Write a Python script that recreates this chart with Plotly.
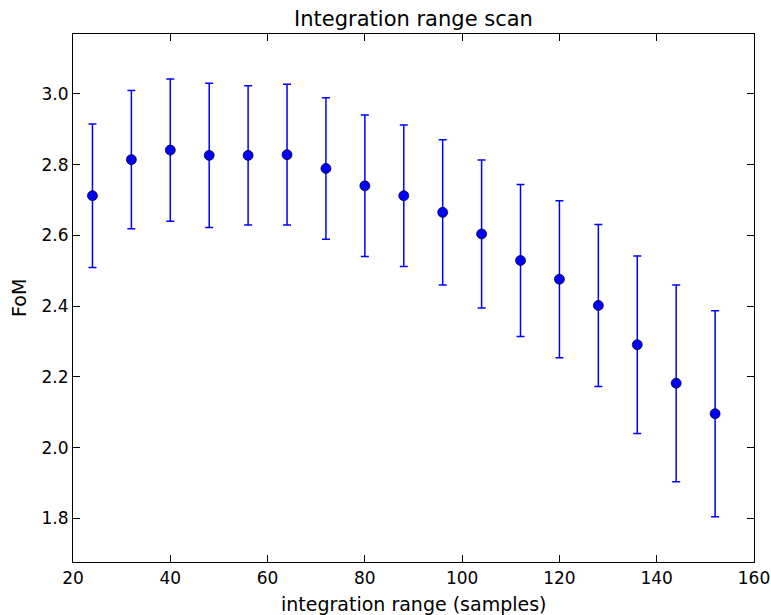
import plotly.graph_objects as go

x_vals = [24, 32, 40, 48, 56, 64, 72, 80, 88, 96, 104, 112, 120, 128, 136, 144, 152]
fom = [2.712, 2.814, 2.841, 2.826, 2.826, 2.828, 2.789, 2.740, 2.712, 2.665, 2.604,
       2.529, 2.476, 2.402, 2.291, 2.182, 2.096]
fom_err = [0.203, 0.195, 0.201, 0.204, 0.197, 0.199, 0.200, 0.200, 0.200, 0.205,
           0.209, 0.215, 0.222, 0.229, 0.251, 0.278, 0.291]
x_ticks = [20, 40, 60, 80, 100, 120, 140, 160]
y_ticks = [1.8, 2.0, 2.2, 2.4, 2.6, 2.8, 3.0]

fig = go.Figure()
fig.add_trace(go.Scatter(
    x=x_vals, y=fom, mode="markers",
    marker=dict(color="#0000ff", size=10, line=dict(color="black", width=0.7)),
    error_y=dict(type="data", array=fom_err, visible=True, color="#0000ff",
                 thickness=1.5, width=4),
    showlegend=False,
))

font_family = "DejaVu Sans"
axis_common = dict(
    showgrid=False, zeroline=False, showline=True, linecolor="black", linewidth=1.2,
    mirror="ticks", ticks="inside", ticklen=7, tickwidth=1, tickcolor="black",
    tickfont=dict(family=font_family, size=17, color="black"),
    automargin=False,
)
fig.update_layout(
    width=771, height=615,
    margin=dict(l=73, r=17, t=34, b=53),
    paper_bgcolor="white", plot_bgcolor="white",
    title=dict(text="Integration range scan", x=0.5, xanchor="center",
               xref="paper",
               y=1 - 18.5 / 615, yanchor="middle",
               font=dict(family=font_family, size=21, color="black")),
    xaxis=dict(range=[20, 160], tickvals=x_ticks, ticktext=[str(v) for v in x_ticks],
               **axis_common),
    yaxis=dict(range=[1.677, 3.169], tickvals=y_ticks,
               ticktext=[f"{v:.1f}" for v in y_ticks],
               **axis_common),
    annotations=[
        dict(text="integration range (samples)", xref="paper", yref="paper",
             x=0.5, y=(562 - 604) / 528, xanchor="center", yanchor="middle",
             showarrow=False, font=dict(family=font_family, size=19, color="black")),
        dict(text="FoM", xref="paper", yref="paper", textangle=-90,
             x=(19 - 73) / 681, y=0.5, xanchor="center", yanchor="middle",
             showarrow=False, font=dict(family=font_family, size=19, color="black")),
    ],
)
fig.write_html("out.html")
